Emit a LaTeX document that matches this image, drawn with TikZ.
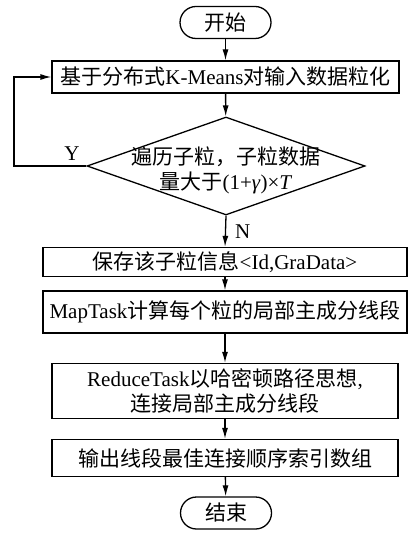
\documentclass[tikz,border=0pt]{standalone}
\usepackage{fontspec}
\setmainfont{Liberation Serif}
\newfontfamily\cjk{Noto Sans CJK SC}
\newcommand{\zh}[1]{{\cjk #1}}
\usetikzlibrary{arrows.meta,shapes.geometric}

\begin{document}
\begin{tikzpicture}[x=1pt, y=-1pt, line width=1.3pt, font=\fontsize{21}{25}\selectfont]
  \useasboundingbox (0,0) rectangle (415,534);

  \tikzset{term node/.style={rectangle,draw,rounded corners=16pt,minimum width=91pt,minimum height=32pt,inner sep=0pt}}
  \tikzset{proc node/.style={rectangle,draw,align=center,inner sep=0pt}}
  \tikzset{dec node/.style={diamond,draw,minimum width=278pt,minimum height=98pt,inner sep=0pt}}
  \tikzset{flow/.style={-{Latex[length=11pt,width=6pt]}}}
  \tikzset{horiz label/.style={draw=none,above,inner sep=5pt}}
  \tikzset{vert label/.style={draw=none,midway,right,inner sep=9pt}}

  \path
    (225.5, 22.5) node[term node](start){\zh{开始}}
    (225.5, 77) node[proc node, minimum width=347pt, minimum height=32pt](gran)
        {\zh{基于分布式}K-Means\zh{对输入数据粒化}}
    (226, 166) node[dec node](check){}
    (225, 262) node[proc node, minimum width=364pt, minimum height=29pt](save)
        {\zh{保存该子粒信息}<Id,GraData>}
    (225, 312) node[proc node, minimum width=364pt, minimum height=42pt](map)
        {MapTask\zh{计算每个粒的局部主成分线段}}
    (225, 391) node[proc node, minimum width=346pt, minimum height=55pt](reduce)
        {ReduceTask\zh{以哈密顿路径思想},\\ \zh{连接局部主成分线段}}
    (225, 458) node[proc node, minimum width=346pt, minimum height=37pt](out)
        {\zh{输出线段最佳连接顺序索引数组}}
    (226, 513) node[term node](stop){\zh{结束}}
  ;
  \node[align=center] (checktext) at ([yshift=-4pt]check.center)
        {\zh{遍历子粒，子粒数据}\\ \zh{量大于}(1+\textit{γ})×\textit{T}};
  \coordinate (loopx) at (14, 166);

  \draw[flow] (start) -- (gran);
  \draw[flow] (gran) -- (check);
  \draw[flow] (check.west) -- (loopx) node[horiz label, pos=.2] {Y} |- (gran.west);
  \draw[flow] (check.south) -- (save.north) node[vert label] {N};
  \draw[flow] (save) -- (map);
  \draw[flow] (map) -- (reduce);
  \draw[flow] (reduce) -- (out);
  \draw[flow] (out) -- (stop);

\end{tikzpicture}
\end{document}
